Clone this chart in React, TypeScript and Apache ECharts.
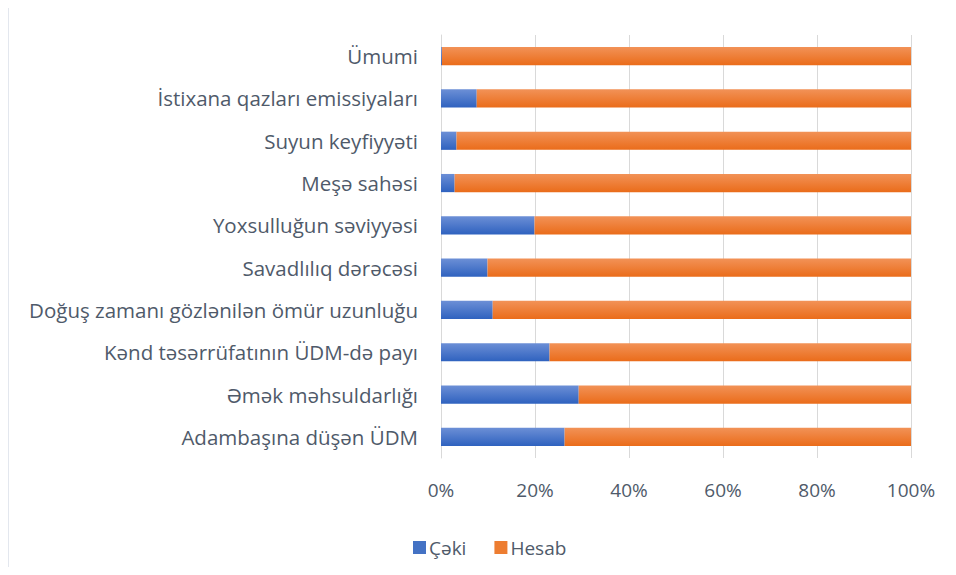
import React, { useEffect, useRef } from "react";
import * as echarts from "echarts";

const categories = [
  "Adambaşına düşən ÜDM",
  "Əmək məhsuldarlığı",
  "Kənd təsərrüfatının ÜDM-də payı",
  "Doğuş zamanı gözlənilən ömür uzunluğu",
  "Savadlılıq dərəcəsi",
  "Yoxsulluğun səviyyəsi",
  "Meşə sahəsi",
  "Suyun keyfiyyəti",
  "İstixana qazları emissiyaları",
  "Ümumi",
];
const cekiValues = [26.3, 29.3, 23.1, 11.0, 9.9, 19.9, 2.9, 3.3, 7.6, 0.2];
const hesabValues = cekiValues.map((v) => +(100 - v).toFixed(1));
const seriesNames = ["Çəki", "Hesab"];

const FONT = "'Open Sans', 'Noto Sans', sans-serif";
const TXT = "#4F5A6A";

export default function App() {
  const ref = useRef<HTMLDivElement>(null);
  useEffect(() => {
    if (!ref.current) return;
    const chart = echarts.init(ref.current, undefined, { renderer: "svg" });
    const blue = new echarts.graphic.LinearGradient(0, 0, 0, 1, [
      { offset: 0, color: "#6C8FD6" },
      { offset: 1, color: "#2F62BF" },
    ]);
    const orange = new echarts.graphic.LinearGradient(0, 0, 0, 1, [
      { offset: 0, color: "#F29257" },
      { offset: 1, color: "#EA6C1A" },
    ]);
    chart.setOption({
      animation: false,
      textStyle: { fontFamily: FONT },
      grid: { left: 441, right: 45, top: 35, bottom: 117, containLabel: false },
      legend: {
        data: [
          { name: seriesNames[0], itemStyle: { color: "#4472C4" } },
          { name: seriesNames[1], itemStyle: { color: "#ED7D31" } },
        ],
        left: 408,
        top: 533,
        itemWidth: 13,
        itemHeight: 13,
        itemGap: 28,
        icon: "rect",
        textStyle: { color: TXT, fontSize: 19, fontFamily: FONT, padding: [0, 0, 0, -2] },
      },
      xAxis: {
        type: "value",
        min: 0,
        max: 100,
        interval: 20,
        axisLabel: {
          formatter: "{value}%",
          color: TXT,
          fontSize: 19,
          margin: 22,
          fontFamily: FONT,
        },
        splitLine: { show: true, lineStyle: { color: "#D9D9D9", width: 1 } },
        axisLine: { show: false },
        axisTick: { show: false },
      },
      yAxis: {
        type: "category",
        data: categories,
        axisLabel: { color: TXT, fontSize: 20.5, margin: 23, fontFamily: FONT },
        axisLine: { show: true, lineStyle: { color: "#D9D9D9", width: 1 } },
        axisTick: { show: false },
      },
      series: [
        {
          name: seriesNames[0],
          type: "bar",
          stack: "total",
          data: cekiValues,
          barCategoryGap: "57%",
          itemStyle: { color: blue },
        },
        {
          name: seriesNames[1],
          type: "bar",
          stack: "total",
          data: hesabValues,
          barCategoryGap: "57%",
          itemStyle: { color: orange },
        },
      ],
    });
    return () => chart.dispose();
  }, []);
  return (
    <div
      style={{
        position: "relative",
        width: 956,
        height: 575,
        overflow: "hidden",
        margin: -8,
        background: "#fff",
      }}
    >
      <div
        style={{
          position: "absolute",
          left: 7,
          top: 5,
          width: 1000,
          height: 1000,
          border: "2px solid #E3E7EE",
          borderRadius: 3,
          boxSizing: "border-box",
        }}
      />
      <div ref={ref} style={{ position: "absolute", left: 0, top: 0, width: 956, height: 575 }} />
    </div>
  );
}
